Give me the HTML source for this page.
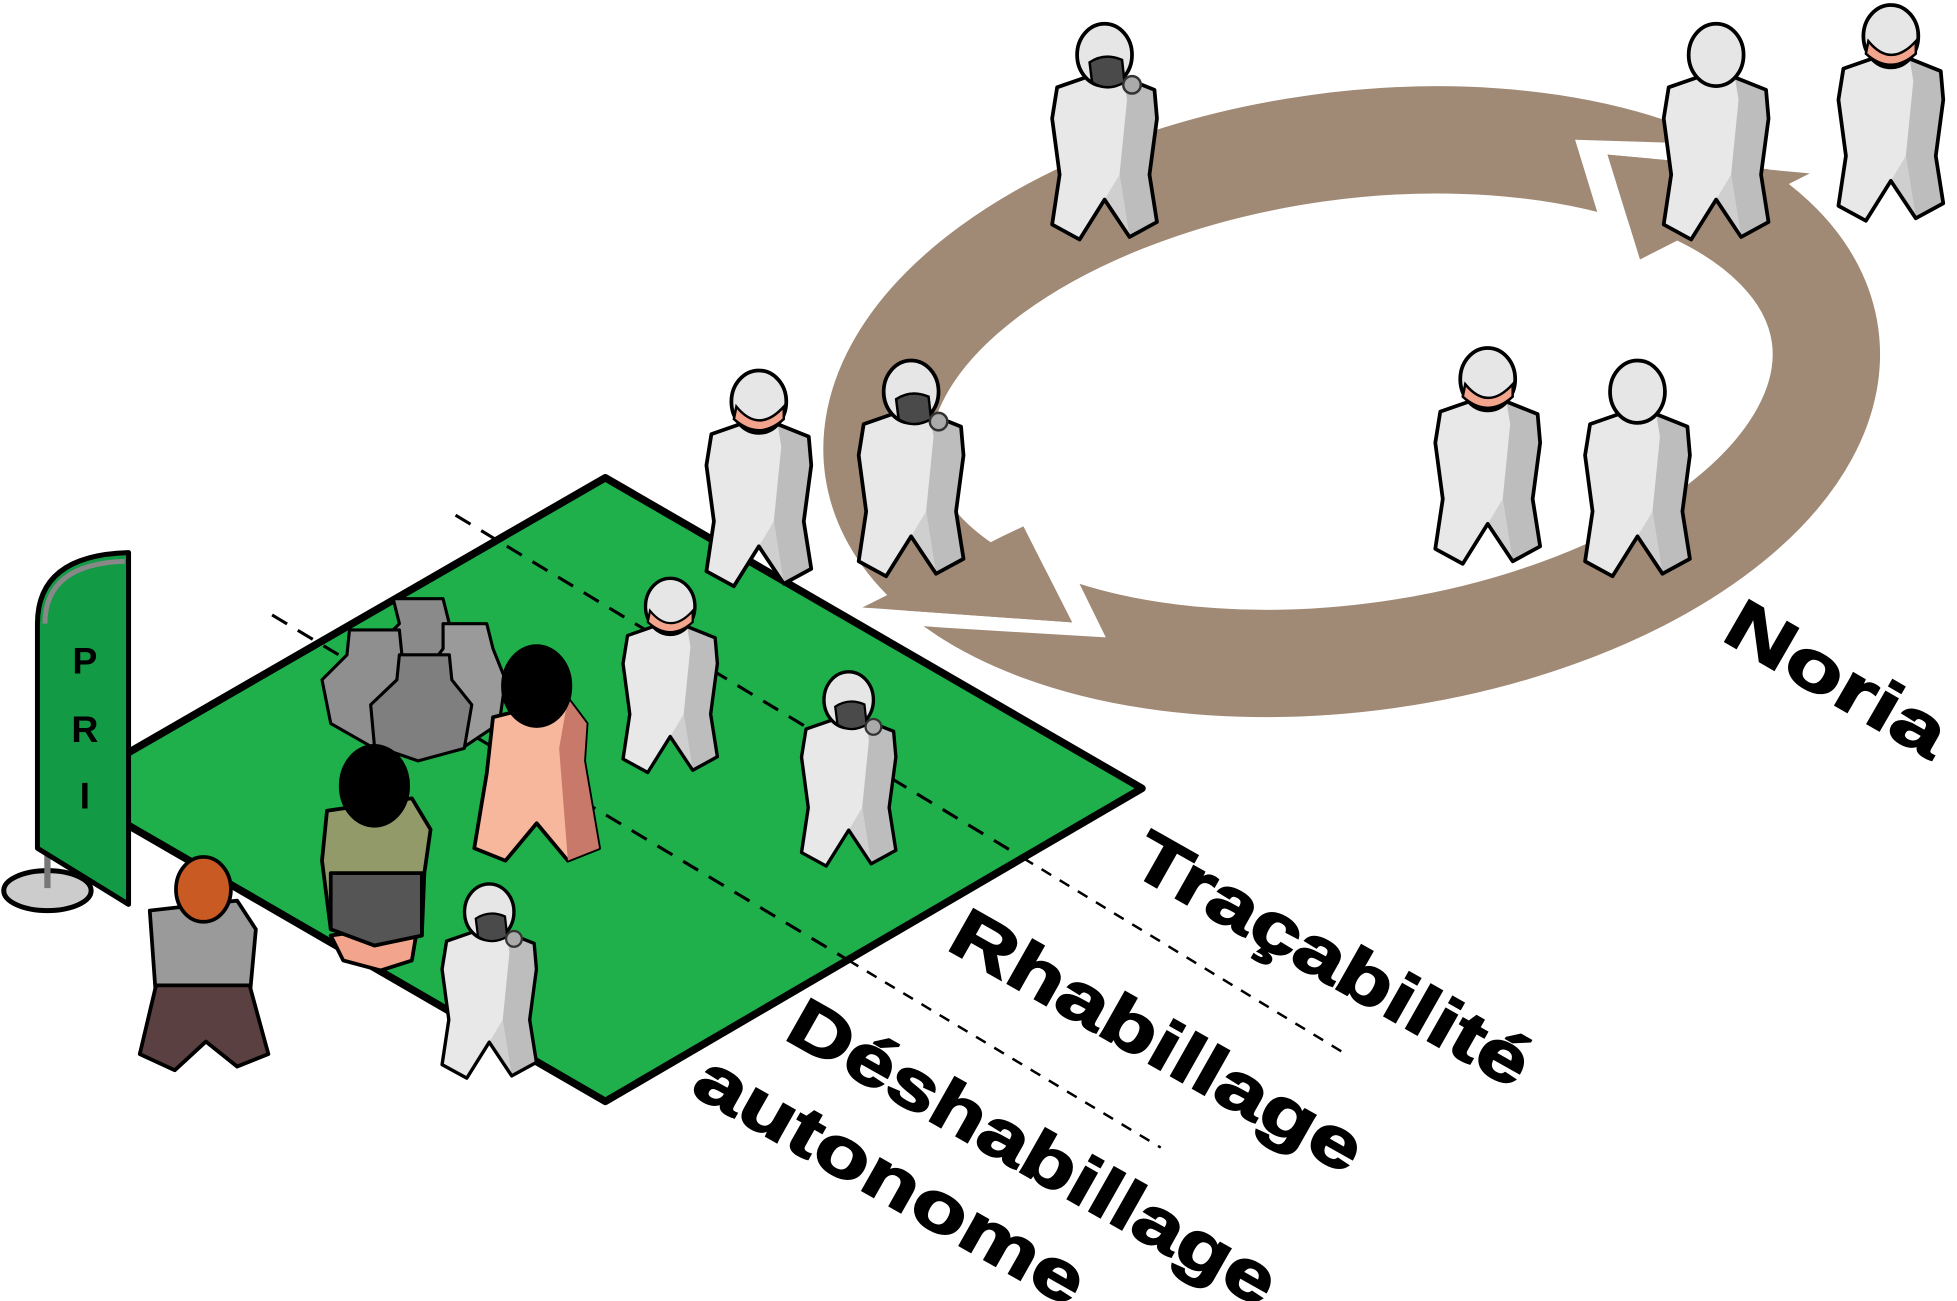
<!DOCTYPE html>
<html><head><meta charset="utf-8">
<style>
html,body{margin:0;padding:0;background:#fff;}
svg{display:block;}
text{font-family:"Liberation Sans",sans-serif;font-weight:bold;}
</style></head>
<body>
<svg width="1957" height="1301" viewBox="0 0 1568 1043" preserveAspectRatio="none" xmlns="http://www.w3.org/2000/svg">
<defs>
  <symbol id="suit" viewBox="0 0 100 180" overflow="visible">
    <polygon points="12,50 35,42 65,42 90,52 92,75 86,120 92,158 70,170 50,140 30,172 8,160 14,120 8,75" fill="#e8e8e8"/>
    <polygon points="65,42 90,52 92,75 86,120 92,158 70,170 62,120 68,60" fill="#bdbdbd"/>
    <polygon points="50,140 62,120 70,170" fill="#cfcfcf"/>
    <polygon points="12,50 35,42 65,42 90,52 92,75 86,120 92,158 70,170 50,140 30,172 8,160 14,120 8,75" fill="none" stroke="#000" stroke-width="3" stroke-linejoin="round"/>
    <ellipse cx="50" cy="24" rx="22" ry="25" fill="#e6e6e6" stroke="#000" stroke-width="3"/>
  </symbol>
  <symbol id="mask" viewBox="0 0 100 180" overflow="visible">
    <use href="#suit" width="100" height="180"/>
    <path d="M38,30 Q50,22 64,28 L66,46 Q52,54 40,46 Z" fill="#4a4a4a" stroke="#000" stroke-width="2"/>
    <circle cx="72" cy="48" r="7" fill="#aaa" stroke="#333" stroke-width="2"/>
  </symbol>
  <symbol id="face" viewBox="0 0 100 180" overflow="visible">
    <use href="#suit" width="100" height="180"/>
    <path d="M32,28 Q50,50 70,28 L70,38 Q50,56 30,38 Z" fill="#f2a48c" stroke="#000" stroke-width="2"/>
  </symbol>
</defs>

<!-- brown ring -->
<ellipse cx="1083" cy="322" rx="383" ry="205" transform="rotate(-8 1083 322)" fill="none" stroke="#a08a76" stroke-width="86"/>
<!-- upper arrow -->
<polygon points="1281,174 1262,112 1455,118 1455,139 1288,124 1314,208 1300,215" fill="#fff"/>
<polygon points="1288,124 1450,139 1314,208" fill="#a08a76"/>
<!-- lower arrow -->
<polygon points="820,422 859,499 691,487 675,497 753,503 886,511 860,458 852,412" fill="#fff"/>
<polygon points="691,487 709,478 803,430 820,422 859,499" fill="#a08a76"/>

<!-- green floor -->
<polygon points="485,383 915,632 485,883 100,660 100,605" fill="#1fb04b" stroke="#000" stroke-width="6" stroke-linejoin="round"/>
<!-- dashed lines -->
<line x1="365" y1="413" x2="820" y2="688" stroke="#000" stroke-width="2.5" stroke-dasharray="14,10"/>
<line x1="820" y1="688" x2="1075" y2="843" stroke="#000" stroke-width="2" stroke-dasharray="9,8"/>
<line x1="218" y1="493" x2="680" y2="770" stroke="#000" stroke-width="2.5" stroke-dasharray="14,10"/>
<line x1="680" y1="770" x2="930" y2="920" stroke="#000" stroke-width="2" stroke-dasharray="9,8"/>

<!-- bags -->
<g stroke="#000" stroke-width="2.5" stroke-linejoin="round">
  <polygon points="315,480 355,480 360,500 390,520 390,560 355,590 310,560 300,520 320,500" fill="#8a8a8a"/>
  <polygon points="355,500 390,500 395,520 405,545 400,580 370,600 345,580 340,540 355,520" fill="#9a9a9a"/>
  <polygon points="280,505 320,505 322,525 340,545 335,580 300,600 265,580 258,545 278,525" fill="#8f8f8f"/>
  <polygon points="320,525 360,525 362,545 378,565 372,600 335,610 300,598 297,565 318,545" fill="#7f7f7f"/>
</g>

<!-- naked woman -->
<g stroke="#000" stroke-width="3" stroke-linejoin="round">
  <polygon points="395,575 455,560 470,580 468,610 480,680 455,690 430,660 405,690 380,680 390,620" fill="#f7b79c"/>
  <polygon points="455,560 470,580 468,610 480,680 455,690 448,600" fill="#c9796a" stroke="none"/>
  <ellipse cx="430" cy="550" rx="27" ry="32" fill="#000"/>
</g>
<!-- olive woman -->
<g stroke="#000" stroke-width="3" stroke-linejoin="round">
  <polygon points="265,750 335,740 330,770 305,778 275,770" fill="#f2a48c"/>
  <polygon points="262,650 330,640 345,665 340,700 338,750 300,758 265,745 258,690" fill="#939a6a"/>
  <polygon points="265,700 338,700 338,750 300,758 265,745" fill="#555"/>
  <ellipse cx="300" cy="630" rx="27" ry="32" fill="#000"/>
</g>
<!-- brown haired man -->
<g stroke="#000" stroke-width="3" stroke-linejoin="round">
  <polygon points="120,730 190,722 205,745 200,800 215,845 190,855 165,835 140,858 112,845 125,800" fill="#9a9a9a"/>
  <polygon points="125,790 200,790 215,845 190,855 165,835 140,858 112,845" fill="#5a4040"/>
  <ellipse cx="163" cy="713" rx="22" ry="26" fill="#c95a23"/>
</g>

<!-- suits -->
<use href="#mask" x="835" y="20" width="100" height="180"/>
<use href="#suit" x="1325" y="20" width="100" height="180"/>
<use href="#face" x="1465" y="5" width="100" height="180"/>
<use href="#face" x="558" y="298" width="100" height="180"/>
<use href="#mask" x="680" y="290" width="100" height="180"/>
<use href="#face" x="1142" y="280" width="100" height="180"/>
<use href="#suit" x="1262" y="290" width="100" height="180"/>
<use href="#face" x="492" y="458" width="90" height="175"/>
<use href="#mask" x="635" y="533" width="90" height="175"/>
<use href="#mask" x="347" y="703" width="90" height="175"/>

<!-- flag -->
<ellipse cx="38" cy="714" rx="35" ry="16" fill="#ccc" stroke="#000" stroke-width="4"/>
<line x1="38" y1="600" x2="38" y2="712" stroke="#777" stroke-width="5"/>
<path d="M30,500 Q30,445 103,443 L103,725 L30,680 Z" fill="#129a45" stroke="#000" stroke-width="4" stroke-linejoin="round"/>
<path d="M36,500 Q36,452 100,450" fill="none" stroke="#888" stroke-width="4"/>
<text x="68" y="540" font-size="30" text-anchor="middle">P</text>
<text x="68" y="595" font-size="30" text-anchor="middle">R</text>
<text x="68" y="648" font-size="30" text-anchor="middle">I</text>

<!-- labels -->
<g fill="#000" stroke="#000" stroke-width="1.5">
<text transform="translate(1378,512) rotate(30)" font-size="56" textLength="195" lengthAdjust="spacingAndGlyphs">Noria</text>
<text transform="translate(903,698) rotate(29.5)" font-size="56" textLength="356" lengthAdjust="spacingAndGlyphs">Traçabilité</text>
<text transform="translate(757,760) rotate(29.5)" font-size="56" textLength="370" lengthAdjust="spacingAndGlyphs">Rhabillage</text>
<text transform="translate(627,832) rotate(29.5)" font-size="56" textLength="440" lengthAdjust="spacingAndGlyphs">Déshabillage</text>
<text transform="translate(552,876) rotate(29.5)" font-size="56" textLength="350" lengthAdjust="spacingAndGlyphs">autonome</text>
</g>
</svg>
</body></html>
